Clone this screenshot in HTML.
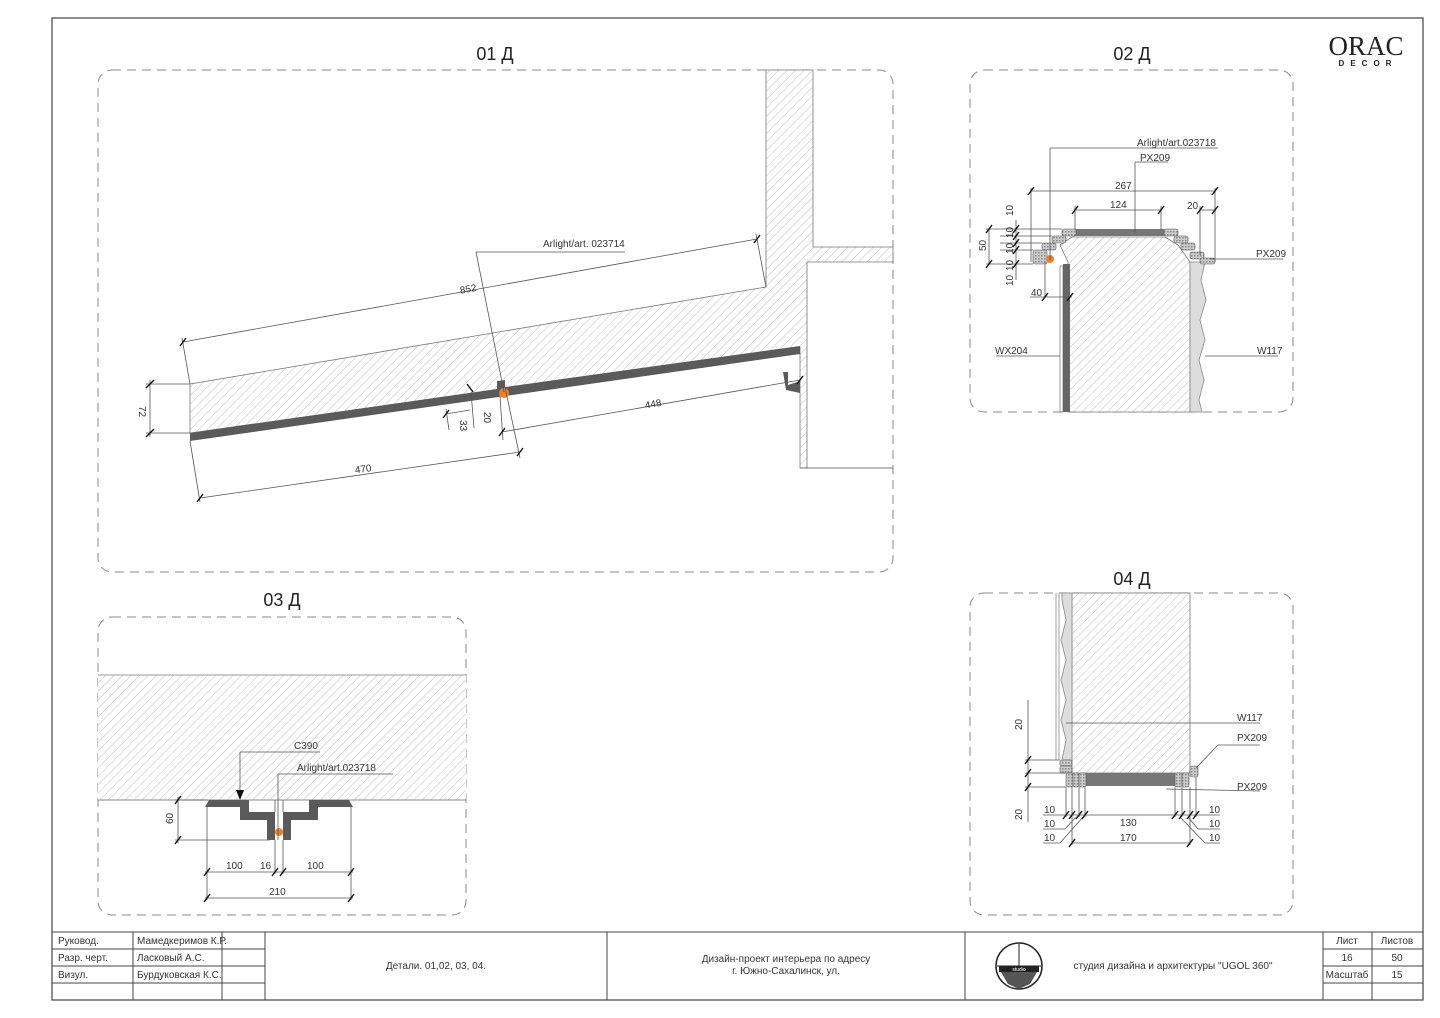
<!DOCTYPE html>
<html><head><meta charset="utf-8"><style>
html,body{margin:0;padding:0;background:#fff;}
svg{display:block;font-family:"Liberation Sans","DejaVu Sans",sans-serif;}
.t{fill:#333;font-size:10px;}
.d{stroke:#555;stroke-width:0.8;fill:none;}
.tk{stroke:#111;stroke-width:1.4;}
.box{fill:none;stroke:#888;stroke-width:1;stroke-dasharray:9,6;}
.h{fill:url(#hatch);stroke:#777;stroke-width:0.8;}
.tb{stroke:#444;stroke-width:1;fill:none;}
</style></head><body>
<svg width="1440" height="1018" viewBox="0 0 1440 1018">
<defs>
<pattern id="hatch" width="6" height="6" patternUnits="userSpaceOnUse" patternTransform="rotate(45)">
<rect width="6" height="6" fill="#fff"/><line x1="0" y1="0" x2="0" y2="6" stroke="#aaa" stroke-width="0.8"/>
</pattern>
<pattern id="xh" width="3" height="3" patternUnits="userSpaceOnUse"><rect width="3" height="3" fill="#ccc"/><rect width="1.5" height="1.5" fill="#888"/></pattern>
</defs>
<rect x="52" y="18" width="1371" height="982" fill="none" stroke="#444" stroke-width="1.2"/>
<text x="1366" y="55" font-family="Liberation Serif,serif" font-size="27" text-anchor="middle" fill="#222">ORAC</text>
<text x="1368" y="66" font-size="8" text-anchor="middle" fill="#222" letter-spacing="6" font-weight="bold">DECOR</text>

<text x="495" y="60" font-size="18" text-anchor="middle" fill="#222">01 Д</text>
<text x="1132" y="60" font-size="18" text-anchor="middle" fill="#222">02 Д</text>
<text x="282" y="606" font-size="18" text-anchor="middle" fill="#222">03 Д</text>
<text x="1132" y="585" font-size="18" text-anchor="middle" fill="#222">04 Д</text>

<rect class="box" x="98" y="70" width="795" height="502" rx="14"/>
<rect class="box" x="970" y="70" width="323" height="342" rx="14"/>
<rect class="box" x="98" y="617" width="368" height="298" rx="14"/>
<rect class="box" x="970" y="593" width="323" height="322" rx="14"/>

<!-- 01 D -->
<polygon class="h" points="766,70 813,70 813,247 893,247 893,262 807,262 807,468 800,468 800,347 190,433 190,384 766,287"/>
<line x1="800" y1="468" x2="893" y2="468" stroke="#777"/>
<polygon points="190,433 497,389 497,381 505,380 505,387 800,346 800,354 190,441" fill="#5a5a5a"/>
<polygon points="783,372 788,372 788,385 800,381 800,393 786,390" fill="#5a5a5a"/>
<circle cx="504" cy="393" r="5" fill="#f07f2a"/>
<g class="d">
<line x1="183" y1="342" x2="757" y2="239"/><line x1="190" y1="384" x2="182" y2="338"/><line x1="766" y1="287" x2="756" y2="234"/>
<line x1="146" y1="384" x2="190" y2="384"/><line x1="146" y1="433" x2="190" y2="433"/><line x1="150" y1="380" x2="150" y2="437"/>
<line x1="200" y1="498" x2="520" y2="452"/><line x1="190" y1="441" x2="200" y2="502"/><line x1="505" y1="387" x2="520" y2="458"/>
<line x1="502" y1="432" x2="800" y2="380"/><line x1="500" y1="397" x2="503" y2="440"/>
<line x1="446" y1="414" x2="470" y2="410"/><line x1="446" y1="409" x2="449" y2="430"/><line x1="471" y1="392" x2="474" y2="428"/>
<line x1="476" y1="252" x2="625" y2="252"/><line x1="476" y1="252" x2="504" y2="392"/>
</g>
<g class="tk"><line x1="180" y1="346" x2="186" y2="338"/><line x1="754" y1="243" x2="760" y2="235"/><line x1="146" y1="388" x2="154" y2="380"/><line x1="146" y1="437" x2="154" y2="429"/><line x1="197" y1="502" x2="203" y2="494"/><line x1="517" y1="456" x2="523" y2="448"/><line x1="499" y1="436" x2="505" y2="428"/><line x1="797" y1="384" x2="803" y2="376"/><line x1="443" y1="418" x2="449" y2="410"/><line x1="467" y1="384" x2="473" y2="392"/></g>
<text class="t" x="543" y="247">Arlight/art. 023714</text>
<text class="t" x="460" y="292" transform="rotate(-10 470 290)">852</text>
<text class="t" x="355" y="472" transform="rotate(-8 365 470)">470</text>
<text class="t" x="645" y="407" transform="rotate(-10 655 405)">448</text>
<text class="t" x="138" y="413" transform="rotate(90 142 410)">72</text>
<text class="t" x="452" y="420" transform="rotate(90 456 424)">33</text>
<text class="t" x="476" y="412" transform="rotate(90 480 416)">20</text>

<!-- 02 D -->
<polygon class="h" points="1068,262 1068,412 1190,412 1190,262 1178,245 1165,237 1072,237 1060,245"/>
<rect x="1063" y="264" width="7" height="148" fill="#666"/>
<g fill="#fff">
<rect x="1058" y="268" width="4" height="5"/><rect x="1058" y="280" width="4" height="5"/><rect x="1058" y="292" width="4" height="5"/><rect x="1058" y="304" width="4" height="5"/><rect x="1058" y="316" width="4" height="5"/><rect x="1058" y="328" width="4" height="5"/><rect x="1058" y="340" width="4" height="5"/><rect x="1058" y="352" width="4" height="5"/><rect x="1058" y="364" width="4" height="5"/><rect x="1058" y="376" width="4" height="5"/><rect x="1058" y="388" width="4" height="5"/><rect x="1058" y="400" width="4" height="5"/>
</g>
<rect x="1060" y="266" width="3" height="146" fill="none" stroke="#555" stroke-width="0.6"/>
<path d="M1190,262 L1205,262 L1201,280 L1206,300 L1200,320 L1205,340 L1199,360 L1204,380 L1199,400 L1202,412 L1190,412Z" fill="#ddd" stroke="#888" stroke-width="0.8"/>
<rect x="1075" y="229" width="90" height="7" fill="#777"/>
<g fill="url(#xh)" stroke="#555" stroke-width="0.6">
<rect x="1062" y="229" width="14" height="7" rx="2"/><rect x="1052" y="236" width="14" height="7" rx="2"/><rect x="1042" y="243" width="14" height="7" rx="2"/><rect x="1033" y="250" width="14" height="14" rx="2"/>
<rect x="1164" y="229" width="14" height="7" rx="2"/><rect x="1174" y="236" width="14" height="7" rx="2"/><rect x="1181" y="243" width="14" height="7" rx="2"/><rect x="1190" y="252" width="14" height="7" rx="2"/><rect x="1200" y="258" width="15" height="6" rx="2"/>
</g>
<circle cx="1050" cy="259" r="4" fill="#f07f2a"/>
<g class="d">
<line x1="1050" y1="148" x2="1218" y2="148"/><line x1="1050" y1="148" x2="1050" y2="260"/>
<line x1="1135" y1="162" x2="1168" y2="162"/><line x1="1135" y1="162" x2="1135" y2="233"/>
<line x1="1030" y1="191" x2="1216" y2="191"/><line x1="1031" y1="188" x2="1031" y2="262"/><line x1="1215" y1="188" x2="1215" y2="262"/>
<line x1="1074" y1="210" x2="1162" y2="210"/><line x1="1075" y1="206" x2="1075" y2="230"/><line x1="1161" y1="206" x2="1161" y2="230"/>
<line x1="1200" y1="210" x2="1216" y2="210"/><line x1="1200" y1="206" x2="1200" y2="255"/>
<line x1="986" y1="229" x2="1062" y2="229"/><line x1="1000" y1="236" x2="1052" y2="236"/><line x1="1000" y1="243" x2="1042" y2="243"/><line x1="1000" y1="250" x2="1033" y2="250"/><line x1="986" y1="264" x2="1033" y2="264"/>
<line x1="1016" y1="220" x2="1016" y2="280"/><line x1="989" y1="229" x2="989" y2="264"/>
<line x1="1030" y1="297" x2="1072" y2="297"/><line x1="1045" y1="262" x2="1045" y2="297"/>
<line x1="1210" y1="259" x2="1283" y2="259"/>
<line x1="996" y1="356" x2="1060" y2="356"/><line x1="1205" y1="356" x2="1278" y2="356"/>
</g>
<g class="tk"><line x1="1028" y1="195" x2="1034" y2="187"/><line x1="1212" y1="195" x2="1218" y2="187"/><line x1="1072" y1="214" x2="1078" y2="206"/><line x1="1158" y1="214" x2="1164" y2="206"/><line x1="1197" y1="214" x2="1203" y2="206"/><line x1="1212" y1="214" x2="1218" y2="206"/><line x1="986" y1="233" x2="992" y2="225"/><line x1="986" y1="268" x2="992" y2="260"/><line x1="1013" y1="233" x2="1019" y2="225"/><line x1="1013" y1="240" x2="1019" y2="232"/><line x1="1013" y1="247" x2="1019" y2="239"/><line x1="1013" y1="254" x2="1019" y2="246"/><line x1="1013" y1="268" x2="1019" y2="260"/><line x1="1042" y1="301" x2="1048" y2="293"/><line x1="1067" y1="301" x2="1073" y2="293"/></g>
<text class="t" x="1137" y="146">Arlight/art.023718</text>
<text class="t" x="1140" y="161" font-size="8">PX209</text>
<text class="t" x="1115" y="189">267</text>
<text class="t" x="1110" y="208">124</text>
<text class="t" x="1187" y="209">20</text>
<text class="t" x="1256" y="257">PX209</text>
<text class="t" x="995" y="354">WX204</text>
<text class="t" x="1257" y="354">W117</text>
<text class="t" x="1031" y="296">40</text>
<text class="t" x="978" y="251" transform="rotate(-90 982 247)">50</text>
<g class="t" font-size="9"><text x="1005" y="216" transform="rotate(-90 1009 212)">10</text><text x="1005" y="238" transform="rotate(-90 1009 234)">10</text><text x="1005" y="254" transform="rotate(-90 1009 250)">10</text><text x="1005" y="271" transform="rotate(-90 1009 267)">10</text><text x="1005" y="286" transform="rotate(-90 1009 282)">10</text></g>

<!-- 03 D -->
<rect x="98" y="675" width="368" height="125" fill="url(#hatch)"/>
<line x1="98" y1="675" x2="466" y2="675" stroke="#999"/><line x1="98" y1="800" x2="466" y2="800" stroke="#888"/>
<polygon points="209,800 249,800 249,812 275,812 275,840 267,840 267,820 240,820 240,807 205,807" fill="#5a5a5a"/>
<polygon points="349,800 309,800 309,812 283,812 283,840 291,840 291,820 318,820 318,807 353,807" fill="#5a5a5a"/>
<circle cx="279" cy="832" r="4" fill="#f07f2a"/>
<g class="d">
<line x1="240" y1="752" x2="320" y2="752"/><line x1="240" y1="752" x2="240" y2="790"/>
<line x1="278" y1="774" x2="393" y2="774"/><line x1="278" y1="774" x2="278" y2="840"/>
<line x1="275" y1="800" x2="275" y2="812"/><line x1="283" y1="800" x2="283" y2="812"/>
<line x1="175" y1="800" x2="208" y2="800"/><line x1="175" y1="840" x2="270" y2="840"/><line x1="178" y1="797" x2="178" y2="843"/>
<line x1="205" y1="872" x2="353" y2="872"/><line x1="205" y1="898" x2="353" y2="898"/>
<line x1="207" y1="807" x2="207" y2="900"/><line x1="351" y1="807" x2="351" y2="900"/><line x1="275" y1="840" x2="275" y2="874"/><line x1="283" y1="840" x2="283" y2="874"/>
</g>
<polygon points="236,790 244,790 240,800" fill="#111"/>
<g class="tk"><line x1="175" y1="804" x2="181" y2="796"/><line x1="175" y1="844" x2="181" y2="836"/><line x1="204" y1="876" x2="210" y2="868"/><line x1="272" y1="876" x2="278" y2="868"/><line x1="280" y1="876" x2="286" y2="868"/><line x1="348" y1="876" x2="354" y2="868"/><line x1="204" y1="902" x2="210" y2="894"/><line x1="348" y1="902" x2="354" y2="894"/></g>
<text class="t" x="294" y="749">C390</text>
<text class="t" x="297" y="771">Arlight/art.023718</text>
<text class="t" x="226" y="869">100</text><text class="t" x="260" y="869">16</text><text class="t" x="307" y="869">100</text><text class="t" x="269" y="895">210</text>
<text class="t" x="164" y="825" transform="rotate(-90 168 820)">60</text>

<!-- 04 D -->
<rect x="1072" y="593" width="118" height="180" class="h"/>
<line x1="1056" y1="593" x2="1056" y2="760" stroke="#888" stroke-width="0.8"/><line x1="1059" y1="593" x2="1059" y2="760" stroke="#888" stroke-width="0.8"/>
<path d="M1062,593 L1072,593 L1072,760 L1062,760 L1066,740 L1061,720 L1066,700 L1061,680 L1066,660 L1061,640 L1066,620 L1062,600Z" fill="#ddd" stroke="#888" stroke-width="0.8"/>
<rect x="1085" y="773" width="90" height="13" fill="#777"/>
<g fill="url(#xh)" stroke="#555" stroke-width="0.6">
<rect x="1060" y="760" width="12" height="6" rx="2"/><rect x="1060" y="766" width="12" height="7" rx="2"/>
<rect x="1066" y="773" width="7" height="14" rx="2"/><rect x="1073" y="773" width="6" height="14" rx="2"/><rect x="1079" y="773" width="7" height="14" rx="2"/>
<rect x="1175" y="773" width="7" height="14" rx="2"/><rect x="1182" y="773" width="7" height="14" rx="2"/><rect x="1190" y="766" width="8" height="11" rx="2"/>
</g>
<g class="d">
<line x1="1066" y1="723" x2="1260" y2="723"/>
<line x1="1196" y1="768" x2="1218" y2="745"/><line x1="1218" y1="745" x2="1260" y2="745"/>
<line x1="1166" y1="789" x2="1260" y2="791"/>
<line x1="1025" y1="760" x2="1060" y2="760"/><line x1="1025" y1="773" x2="1066" y2="773"/><line x1="1025" y1="787" x2="1066" y2="787"/>
<line x1="1028" y1="700" x2="1028" y2="822"/>
<line x1="1043" y1="815" x2="1220" y2="815"/>
<line x1="1066" y1="787" x2="1066" y2="817"/><line x1="1072" y1="787" x2="1072" y2="845"/><line x1="1079" y1="787" x2="1079" y2="817"/><line x1="1085" y1="787" x2="1085" y2="817"/>
<line x1="1175" y1="787" x2="1175" y2="817"/><line x1="1182" y1="787" x2="1182" y2="817"/><line x1="1190" y1="787" x2="1190" y2="845"/><line x1="1196" y1="777" x2="1196" y2="817"/>
<line x1="1072" y1="843" x2="1190" y2="843"/>
<line x1="1043" y1="829" x2="1065" y2="829"/><line x1="1065" y1="829" x2="1076" y2="817"/>
<line x1="1043" y1="843" x2="1060" y2="843"/><line x1="1060" y1="843" x2="1083" y2="817"/>
<line x1="1198" y1="829" x2="1220" y2="829"/><line x1="1188" y1="817" x2="1198" y2="829"/>
<line x1="1205" y1="843" x2="1220" y2="843"/><line x1="1180" y1="817" x2="1205" y2="843"/>
</g>
<g class="tk"><line x1="1025" y1="764" x2="1031" y2="756"/><line x1="1025" y1="777" x2="1031" y2="769"/><line x1="1025" y1="791" x2="1031" y2="783"/><line x1="1063" y1="819" x2="1069" y2="811"/><line x1="1069" y1="819" x2="1075" y2="811"/><line x1="1076" y1="819" x2="1082" y2="811"/><line x1="1082" y1="819" x2="1088" y2="811"/><line x1="1172" y1="819" x2="1178" y2="811"/><line x1="1179" y1="819" x2="1185" y2="811"/><line x1="1187" y1="819" x2="1193" y2="811"/><line x1="1193" y1="819" x2="1199" y2="811"/><line x1="1069" y1="847" x2="1075" y2="839"/><line x1="1187" y1="847" x2="1193" y2="839"/></g>
<text class="t" x="1237" y="721" font-size="8">W117</text>
<text class="t" x="1237" y="741" font-size="8">PX209</text>
<text class="t" x="1237" y="790" font-size="8">PX209</text>
<text class="t" x="1120" y="826">130</text><text class="t" x="1120" y="841">170</text>
<g class="t"><text x="1044" y="813">10</text><text x="1044" y="827">10</text><text x="1044" y="841">10</text><text x="1209" y="813">10</text><text x="1209" y="827">10</text><text x="1209" y="841">10</text></g>
<text class="t" x="1014" y="730" transform="rotate(-90 1018 726)">20</text>
<text class="t" x="1014" y="820" transform="rotate(-90 1018 816)">20</text>

<g class="tb">
<line x1="52" y1="932" x2="1423" y2="932"/>
<line x1="133" y1="932" x2="133" y2="1000"/><line x1="222" y1="932" x2="222" y2="1000"/><line x1="265" y1="932" x2="265" y2="1000"/>
<line x1="607" y1="932" x2="607" y2="1000"/><line x1="965" y1="932" x2="965" y2="1000"/><line x1="1323" y1="932" x2="1323" y2="1000"/><line x1="1372" y1="932" x2="1372" y2="1000"/>
<line x1="52" y1="949" x2="265" y2="949"/><line x1="52" y1="966" x2="265" y2="966"/><line x1="52" y1="983" x2="265" y2="983"/>
<line x1="1323" y1="949" x2="1423" y2="949"/><line x1="1323" y1="966" x2="1423" y2="966"/><line x1="1323" y1="983" x2="1423" y2="983"/>
</g>
<g class="t" font-size="9.5">
<text x="58" y="944">Руковод.</text><text x="137" y="944">Мамедкеримов К.Р.</text>
<text x="58" y="961">Разр. черт.</text><text x="137" y="961">Ласковый А.С.</text>
<text x="58" y="978">Визул.</text><text x="137" y="978">Бурдуковская К.С.</text>
<text x="436" y="969" text-anchor="middle">Детали. 01,02, 03, 04.</text>
<text x="786" y="962" text-anchor="middle">Дизайн-проект интерьера по адресу</text>
<text x="786" y="974" text-anchor="middle">г. Южно-Сахалинск, ул.</text>
<text x="1173" y="969" text-anchor="middle">студия дизайна и архитектуры "UGOL 360"</text>
<text x="1347" y="944" text-anchor="middle">Лист</text><text x="1397" y="944" text-anchor="middle">Листов</text>
<text x="1347" y="961" text-anchor="middle">16</text><text x="1397" y="961" text-anchor="middle">50</text>
<text x="1347" y="978" text-anchor="middle">Масштаб</text><text x="1397" y="978" text-anchor="middle">15</text>
</g>
<circle cx="1019" cy="966" r="23" fill="#fff" stroke="#222" stroke-width="1.5"/>
<line x1="1019" y1="944" x2="1019" y2="966" stroke="#222"/><line x1="997" y1="966" x2="1041" y2="966" stroke="#222"/>
<rect x="999" y="966" width="40" height="6" fill="#222"/>
<path d="M1001,972 L1037,972 L1030,984 L1019,989 L1008,984Z" fill="#555"/>
<text x="1019" y="971" font-size="5" fill="#fff" text-anchor="middle">studio</text>
</svg>
</body></html>
